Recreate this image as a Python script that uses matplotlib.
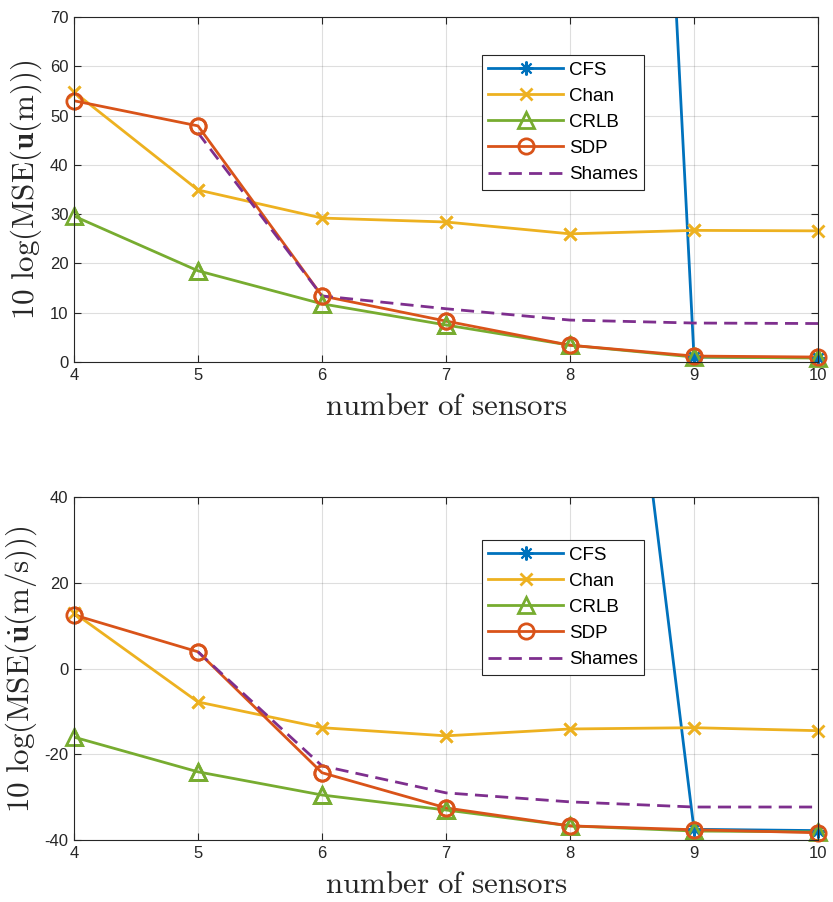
import matplotlib
matplotlib.use("Agg")
import matplotlib.pyplot as plt
import numpy as np

plt.rcParams['font.family'] = ['Liberation Sans', 'DejaVu Sans']
plt.rcParams['mathtext.fontset'] = 'cm'
plt.rcParams['axes.unicode_minus'] = False

sensors = [4, 5, 6, 7, 8, 9, 10]

# Top panel: position MSE (dB)
cfs_u = [900, 800, 700, 600, 490, 1.0, 0.9]
chan_u = [54.8, 34.9, 29.2, 28.4, 26.0, 26.7, 26.6]
crlb_u = [29.6, 18.5, 11.8, 7.5, 3.4, 1.0, 0.8]
sdp_u = [53.0, 47.9, 13.4, 8.3, 3.4, 1.2, 1.0]
shames_u = [np.nan, 46.5, 13.4, 10.8, 8.5, 7.9, 7.8]

# Bottom panel: velocity MSE (dB)
cfs_v = [600, 500, 400, 300, 197, -37.5, -37.8]
chan_v = [13.0, -7.8, -13.8, -15.7, -14.1, -13.8, -14.5]
crlb_v = [-16.0, -24.1, -29.5, -33.0, -36.7, -37.9, -38.1]
sdp_v = [12.5, 3.9, -24.3, -32.5, -36.7, -37.6, -38.3]
shames_v = [np.nan, 3.9, -22.7, -29.0, -31.1, -32.3, -32.3]

labels = ['CFS', 'Chan', 'CRLB', 'SDP', 'Shames']
colors = ['#0072BD', '#EDB120', '#77AC30', '#D95319', '#7E2F8E']
markers = [dict(marker=(8, 2, 0), ms=10, mew=1.5),
           dict(marker='x', ms=9, mew=2),
           dict(marker='^', ms=11, mew=2, mfc='none'),
           dict(marker='o', ms=11, mew=2, mfc='none'),
           None]

fig = plt.figure(figsize=(8.33, 9.02), dpi=100)
ax1 = fig.add_axes([0.0888, 0.5987, 0.8932, 0.3825])
ax2 = fig.add_axes([0.0888, 0.0687, 0.8932, 0.3803])

def draw(ax, series, ylim, yticks, ylabel, leg_anchor):
    lw = 2.0
    for i, ys in enumerate(series):
        if markers[i] is None:
            ax.plot(sensors, ys, color=colors[i], lw=lw, ls=(0, (4.7, 2.6)), label=labels[i])
        else:
            ax.plot(sensors, ys, color=colors[i], lw=lw, label=labels[i], **markers[i])
            ya = np.array(ys, dtype=float)
            xa = np.array(sensors, dtype=float)
            m = (ya >= ylim[0] - 1) & (ya <= ylim[1])
            ax.plot(xa[m], ya[m], ls='none', color=colors[i], clip_on=False,
                    zorder=2.5, **markers[i])
    ax.set_xlim(4, 10)
    ax.set_ylim(*ylim)
    ax.set_xticks(sensors)
    ax.set_yticks(yticks)
    ax.grid(True, color='#262626', alpha=0.15, lw=0.8)
    ax.set_axisbelow(True)
    ax.tick_params(direction='in', top=True, right=True, length=5, width=0.8,
                   labelsize=12, colors='#262626', labelcolor='#262626', pad=4)
    for s in ax.spines.values():
        s.set_color('#262626')
        s.set_linewidth(0.8)
    ax.set_xlabel(r'$\mathrm{number\ of\ sensors}$', fontsize=22.3, labelpad=7, color='#262626')
    ax.set_ylabel(ylabel, fontsize=22.3, labelpad=4, color='#262626')
    leg = ax.legend(loc='upper left', bbox_to_anchor=leg_anchor, borderaxespad=0,
                    fontsize=13.5, handlelength=4.0, handletextpad=0.3, labelspacing=0.48,
                    fancybox=False, framealpha=1, edgecolor='#262626', borderpad=0.35)
    leg.get_frame().set_linewidth(0.8)

draw(ax1, [cfs_u, chan_u, crlb_u, sdp_u, shames_u], (0, 70), [0, 10, 20, 30, 40, 50, 60, 70],
     r'$10\ \log(\mathrm{MSE}(\mathbf{u}(\mathrm{m})))$', (0.548, 0.89))
draw(ax2, [cfs_v, chan_v, crlb_v, sdp_v, shames_v], (-40, 40), [-40, -20, 0, 20, 40],
     r'$10\ \log(\mathrm{MSE}(\dot{\mathbf{u}}(\mathrm{m/s})))$', (0.548, 0.875))

fig.savefig('out.png', dpi=100)
